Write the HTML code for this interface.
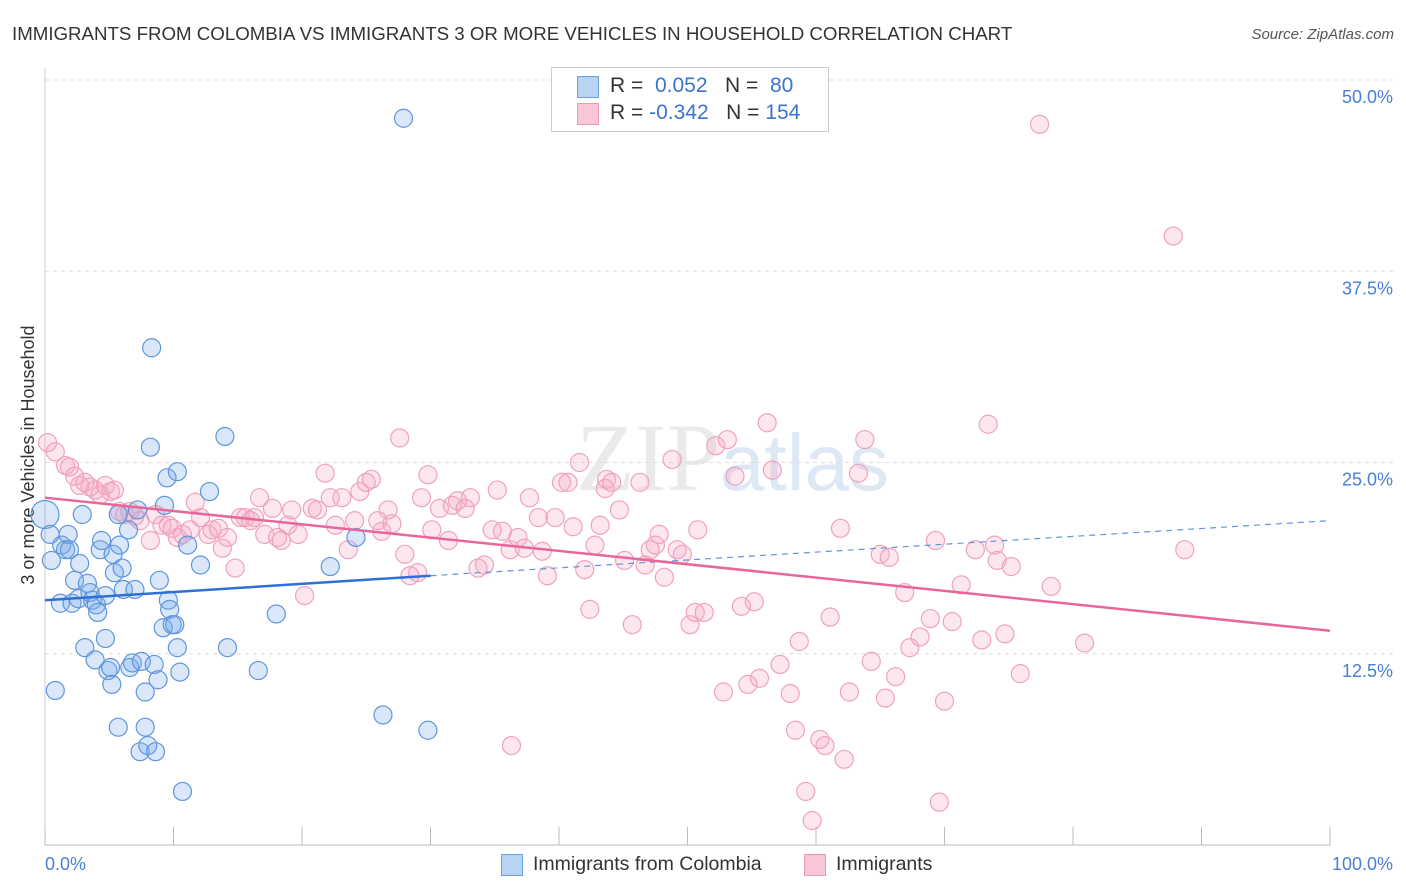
<!DOCTYPE html>
<html><head><meta charset="utf-8"><style>
body{margin:0;background:#fff;font-family:"Liberation Sans",sans-serif;}
#wrap{position:relative;width:1406px;height:892px;overflow:hidden;}
svg{position:absolute;left:0;top:0;}
</style></head><body>
<div id="wrap">
<svg id="svg" width="1406" height="892" xmlns="http://www.w3.org/2000/svg">
<text x="12" y="40" font-size="18.7" fill="#333">IMMIGRANTS FROM COLOMBIA VS IMMIGRANTS 3 OR MORE VEHICLES IN HOUSEHOLD CORRELATION CHART</text>
<text x="1394" y="39" font-size="15" fill="#555" font-style="italic" text-anchor="end">Source: ZipAtlas.com</text>
<text x="720" y="490" font-size="96" fill="#ddd" font-family="Liberation Serif" text-anchor="end" opacity="0.6">ZIP</text>
<text x="720" y="490" font-size="80" fill="#c8daf0" opacity="0.6">atlas</text>
<text transform="translate(34,455) rotate(-90)" font-size="18" fill="#333" text-anchor="middle">3 or more Vehicles in Household</text>
<g id="grid"></g><g id="marks"></g>
</svg>
<div style="position:absolute;left:551px;top:67px;width:276px;height:63px;border:1px solid #ccc;background:#fff;font-size:21px;color:#333;">
 <div style="position:absolute;left:25px;top:8px;width:20px;height:20px;background:#b9d3f2;border:1px solid #6a9fe0;"></div>
 <div style="position:absolute;left:58px;top:6px;white-space:nowrap;">R = <span style="color:#3a73d0">&nbsp;0.052</span>&nbsp;&nbsp;&nbsp;N = <span style="color:#3a73d0">&nbsp;80</span></div>
 <div style="position:absolute;left:25px;top:35px;width:20px;height:20px;background:#f8c6d6;border:1px solid #ee9ab6;"></div>
 <div style="position:absolute;left:58px;top:33px;white-space:nowrap;">R = <span style="color:#3a73d0">-0.342</span>&nbsp;&nbsp;&nbsp;N = <span style="color:#3a73d0">154</span></div>
</div>
<div style="position:absolute;left:0;top:852px;width:1406px;font-size:19.5px;color:#333;">
 <div style="position:absolute;left:501px;top:2px;width:20px;height:20px;background:#b9d3f2;border:1px solid #6a9fe0;"></div>
 <div style="position:absolute;left:533px;top:1px;">Immigrants from Colombia</div>
 <div style="position:absolute;left:804px;top:2px;width:20px;height:20px;background:#f8c6d6;border:1px solid #ee9ab6;"></div>
 <div style="position:absolute;left:836px;top:1px;">Immigrants</div>
</div>
</div>
<script>
const yTicks=[12.5,25,37.5,50];
const yTickLabels=["12.5%","25.0%","37.5%","50.0%"];
const xTicks=[0,10,20,30,40,50,60,70,80,90,100];
const blueX=[0,0.4,0.5,0.8,1.2,1.3,1.6,1.8,1.9,2.1,2.3,2.6,2.7,2.9,3.1,3.3,3.5,3.7,3.9,4.0,4.1,4.3,4.4,4.7,4.7,4.9,5.1,5.2,5.3,5.4,5.7,5.7,5.8,6.0,6.1,6.5,6.6,6.8,7.0,7.2,7.4,7.5,7.8,7.8,8.0,8.2,8.3,8.5,8.6,8.8,8.9,9.2,9.3,9.5,9.6,9.7,9.9,10.1,10.3,10.3,10.5,10.7,11.1,12.1,12.8,14.0,14.2,16.6,18.0,22.2,24.2,26.3,27.9,29.8];
const blueY=[21.6,20.3,18.6,10.1,15.8,19.6,19.3,20.3,19.3,15.8,17.3,16.1,18.4,21.6,12.9,17.1,16.5,16.0,12.1,15.7,15.2,19.3,19.9,13.5,16.3,11.4,11.6,10.5,19.0,17.8,21.6,7.7,19.6,18.1,16.7,20.6,11.6,11.9,16.7,21.9,6.1,12.0,10.0,7.7,6.5,26.0,32.5,11.8,6.1,10.8,17.3,14.2,22.2,24.0,16.0,15.4,14.4,14.4,24.4,12.9,11.3,3.5,19.6,18.3,23.1,26.7,12.9,11.4,15.1,18.2,20.1,8.5,47.5,7.5];
const pinkX=[0.2,0.8,1.6,1.9,2.3,2.7,3.1,3.5,3.9,4.3,4.7,5.1,5.4,5.8,6.2,6.6,7.0,7.4,8.2,8.6,9.1,9.6,9.9,10.3,10.7,11.3,11.7,12.1,12.7,13.0,13.5,13.8,14.2,14.8,15.2,15.6,16.0,16.3,16.7,17.1,17.7,18.1,18.4,18.9,19.2,19.7,20.2,20.8,21.2,21.8,22.2,22.6,23.1,23.6,24.1,24.5,25.0,25.4,25.9,26.2,26.7,27.0,27.6,28.0,28.4,29.0,29.3,29.8,30.1,30.7,31.4,31.7,32.1,32.7,33.1,33.7,34.2,34.8,35.2,35.6,36.2,36.3,36.8,37.3,37.7,38.4,38.7,39.1,39.7,40.2,40.7,41.1,41.6,42.0,42.4,42.8,43.2,43.6,43.7,44.1,44.7,45.1,45.7,46.3,46.7,47.1,47.5,47.8,48.2,48.8,49.2,49.6,50.2,50.6,50.8,51.3,52.2,52.8,53.1,53.7,54.2,54.7,55.2,55.6,56.2,56.6,57.2,58.0,58.4,58.7,59.2,59.7,60.3,60.7,61.1,61.9,62.2,62.6,63.3,63.8,64.3,65.0,65.4,65.7,66.2,66.9,67.3,68.1,68.9,69.3,69.6,70.0,70.6,71.3,72.4,72.9,73.4,73.9,74.1,74.7,75.2,75.9,77.4,78.3,80.9,87.8,88.7];
const pinkY=[26.3,25.7,24.8,24.7,24.1,23.5,23.7,23.4,23.2,22.9,23.5,23.1,23.2,21.8,21.6,21.8,21.5,21.2,19.9,21.6,20.9,20.9,20.7,20.1,20.3,20.6,22.4,21.4,20.3,20.6,20.7,19.4,20.1,18.1,21.4,21.4,21.2,21.4,22.7,20.3,22.0,20.1,19.9,20.9,21.9,20.3,16.3,22.0,21.9,24.3,22.7,20.9,22.7,19.3,21.2,23.1,23.7,23.9,21.2,20.5,21.9,21.0,26.6,19.0,17.6,17.8,22.7,24.2,20.6,22.0,19.9,22.2,22.5,22.0,22.7,18.1,18.3,20.6,23.2,20.5,19.3,6.5,20.1,19.4,22.7,21.4,19.2,17.6,21.4,23.7,23.7,20.8,25.0,18.0,15.4,19.6,20.9,23.3,23.9,23.7,21.9,18.6,14.4,23.7,18.3,19.3,19.6,20.3,17.5,25.2,19.3,19.0,14.4,15.2,20.6,15.2,26.1,10.0,26.5,24.1,15.6,10.5,15.9,10.9,27.6,24.5,11.8,9.9,7.5,13.3,3.5,1.6,6.9,6.5,14.9,20.7,5.6,10.0,24.3,26.5,12.0,19.0,9.6,18.8,11.0,16.5,12.9,13.6,14.8,19.9,2.8,9.4,14.6,17.0,19.3,13.4,27.5,19.6,18.6,13.8,18.2,11.2,47.1,16.9,13.2,39.8,19.3];
const blueTrendX=[0,30,100];
const blueTrendY=[16.0,17.6,21.2];
const pinkTrendX=[0,100];
const pinkTrendY=[22.7,14.0];

const X0=45,X1=1330,YB=845,YT=80;
const xs=v=>X0+(X1-X0)*v/100;
const ys=v=>YB-(YB-YT)*v/50;
const NS="http://www.w3.org/2000/svg";
function mk(tag,parent,attrs){const e=document.createElementNS(NS,tag);for(const k in attrs)e.setAttribute(k,attrs[k]);parent.appendChild(e);return e;}
const gridG=document.getElementById('grid'),marksG=document.getElementById('marks');
const topLine=mk('line',gridG,{x1:X0,x2:1394,y1:ys(50),y2:ys(50),stroke:'#ddd','stroke-dasharray':'4,4'});


yTicks.forEach((t,i)=>{
 const l=mk('line',gridG,{x1:X0,x2:1394,y1:ys(t),y2:ys(t),stroke:'#ddd','stroke-dasharray':'4,4'});
 
 
 const tx=mk('text',gridG,{x:1393,y:ys(t)+23,'font-size':18,fill:'#4a7fd4','text-anchor':'end'});
 tx.textContent=yTickLabels[i];
 
 
});
const ax=mk('line',gridG,{x1:X0,x2:X1,y1:YB,y2:YB,stroke:'#bbb'});


const ay=mk('line',gridG,{x1:X0,x2:X0,y1:68,y2:YB,stroke:'#ccc'});


xTicks.forEach(t=>{
 const l=mk('line',gridG,{x1:xs(t),x2:xs(t),y1:YB,y2:YB-18,stroke:'#bbb'});
 
 
});
const xl0=mk('text',gridG,{x:45,y:870,'font-size':18,fill:'#4a7fd4'});xl0.textContent='0.0%';


const xl1=mk('text',gridG,{x:1393,y:870,'font-size':18,fill:'#4a7fd4','text-anchor':'end'});xl1.textContent='100.0%';



pinkX.forEach((v,i)=>{
 const c=mk('circle',marksG,{cx:xs(v),cy:ys(pinkY[i]),r:9,fill:'rgba(244,170,196,0.28)',stroke:'#f0a2bd','stroke-width':1.2});
 
 
});
blueX.forEach((v,i)=>{
 const c=mk('circle',marksG,{cx:xs(v),cy:ys(blueY[i]),r:i===0?14:9,fill:'rgba(120,170,235,0.28)',stroke:'#5f96dc','stroke-width':1.2});
 
 
});
const bt1=mk('line',marksG,{x1:xs(blueTrendX[0]),y1:ys(blueTrendY[0]),x2:xs(blueTrendX[1]),y2:ys(blueTrendY[1]),stroke:'#2f6fd6','stroke-width':2.5});


const bt2=mk('line',marksG,{x1:xs(blueTrendX[1]),y1:ys(blueTrendY[1]),x2:xs(blueTrendX[2]),y2:ys(blueTrendY[2]),stroke:'#5f96dc','stroke-width':1.2,'stroke-dasharray':'6,5'});


const pt=mk('line',marksG,{x1:xs(pinkTrendX[0]),y1:ys(pinkTrendY[0]),x2:xs(pinkTrendX[1]),y2:ys(pinkTrendY[1]),stroke:'#e8679a','stroke-width':2.5});


</script>
</body></html>
